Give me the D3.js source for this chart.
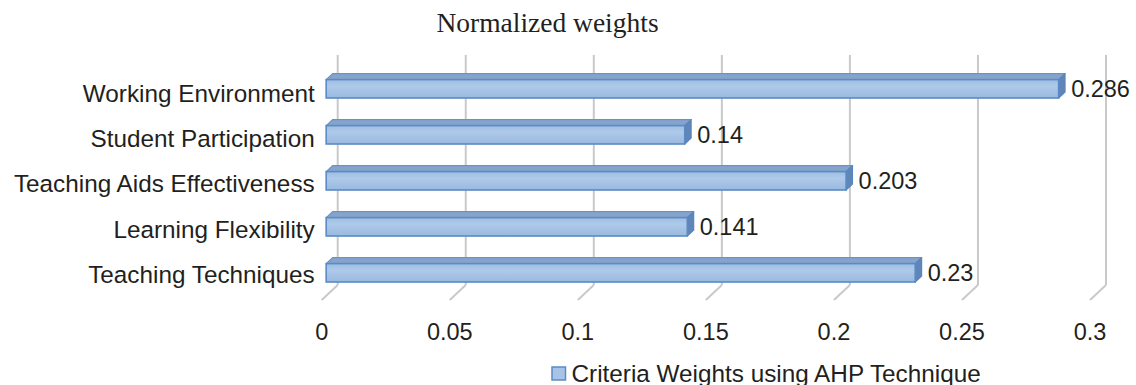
<!DOCTYPE html>
<html>
<head>
<meta charset="utf-8">
<script src="https://cdn.jsdelivr.net/npm/d3@7/dist/d3.min.js"></script>
<style>
  html, body { margin: 0; padding: 0; background: #ffffff; }
  svg { display: block; }
</style>
</head>
<body>
<svg id="chart" width="1136" height="385"></svg>
<script>
// ---- data ----
const categories = ["Working Environment", "Student Participation", "Teaching Aids Effectiveness", "Learning Flexibility", "Teaching Techniques"];
const values = [0.286, 0.14, 0.203, 0.141, 0.23];
const valueLabels = ["0.286", "0.14", "0.203", "0.141", "0.23"];
const tickValues = [0, 0.05, 0.1, 0.15, 0.2, 0.25, 0.3];
const tickLabels = ["0", "0.05", "0.1", "0.15", "0.2", "0.25", "0.3"];
const title = "Normalized weights";
const seriesName = "Criteria Weights using AHP Technique";

// ---- layout ----
const svg = d3.select("#chart");
const wallTop = 55, wallBottom = 285;
const depthDX = -16, depthDY = 15;   // floor depth projection (back -> front)
const barFront = 0.72, barBack = 0.32; // bar depth fractions

const x = d3.scaleLinear().domain([0, 0.3]).range([337.7, 1106]);
const y = d3.scaleBand().domain(categories).range([wallTop, wallBottom])
  .paddingInner(0.6).paddingOuter(0.3);

const proj = (v, yy, d) => [x(v) + depthDX * d, yy + depthDY * d];

const textColor = "#231f20";
const sans = "'Liberation Sans', Arial, sans-serif";

// defs: gradient for bar front face
const defs = svg.append("defs");
const g1 = defs.append("linearGradient").attr("id", "frontGrad")
  .attr("x1", 0).attr("y1", 0).attr("x2", 0).attr("y2", 1);
g1.append("stop").attr("offset", "0%").attr("stop-color", "#9fbde2");
g1.append("stop").attr("offset", "35%").attr("stop-color", "#aecaea");
g1.append("stop").attr("offset", "100%").attr("stop-color", "#9ab9df");

// ---- gridlines on back wall + floor ----
const grid = svg.append("g");
grid.selectAll("line.v").data(tickValues).enter().append("line")
  .attr("x1", d => x(d)).attr("x2", d => x(d))
  .attr("y1", wallTop).attr("y2", wallBottom)
  .attr("stroke", "#c9c9c9").attr("stroke-width", 2);
grid.selectAll("line.f").data(tickValues).enter().append("line")
  .attr("x1", d => x(d)).attr("y1", wallBottom)
  .attr("x2", d => proj(d, wallBottom, 1)[0]).attr("y2", d => proj(d, wallBottom, 1)[1])
  .attr("stroke", "#c9c9c9").attr("stroke-width", 2);

// ---- bars ----
const bars = svg.append("g");
categories.forEach((c, i) => {
  const v = values[i];
  const yt = y(c), yb = y(c) + y.bandwidth();
  const fTL = proj(0, yt, barFront), fTR = proj(v, yt, barFront);
  const fBL = proj(0, yb, barFront), fBR = proj(v, yb, barFront);
  const bTL = proj(0, yt, barBack), bTR = proj(v, yt, barBack);
  const bBR = proj(v, yb, barBack);
  const poly = pts => pts.map(p => p.join(",")).join(" ");
  // top face
  bars.append("polygon")
    .attr("points", poly([fTL, bTL, bTR, fTR]))
    .attr("fill", "#84a4cc").attr("stroke", "#6c92c3").attr("stroke-width", 1.2)
    .attr("stroke-linejoin", "round");
  // side face
  bars.append("polygon")
    .attr("points", poly([fTR, bTR, bBR, fBR]))
    .attr("fill", "#5f86b9").attr("stroke", "#5a84bd").attr("stroke-width", 1.2)
    .attr("stroke-linejoin", "round");
  // front face
  bars.append("rect")
    .attr("x", fTL[0]).attr("y", fTL[1])
    .attr("width", fTR[0] - fTL[0]).attr("height", fBL[1] - fTL[1])
    .attr("fill", "url(#frontGrad)").attr("stroke", "#5b8ac6").attr("stroke-width", 1.6);
  // value label
  svg.append("text")
    .attr("x", fTR[0] + 12.5)
    .attr("y", (fTL[1] + fBL[1]) / 2 + 8.3)
    .attr("font-family", sans).attr("font-size", 23.5).attr("fill", textColor)
    .text(valueLabels[i]);
});

// ---- category labels (front-left edge) ----
svg.append("g").selectAll("text").data(categories).enter().append("text")
  .attr("x", d => proj(0, 0, 1)[0] - 7)
  .attr("y", (d, i) => proj(0, y(d) + y.bandwidth() / 2, 1)[1] + 8.5 - i * 0.6)
  .attr("text-anchor", "end")
  .attr("font-family", sans).attr("font-size", 24.3).attr("fill", textColor)
  .text(d => d);

// ---- x tick labels ----
svg.append("g").selectAll("text").data(tickValues).enter().append("text")
  .attr("x", d => proj(d, wallBottom, 1)[0])
  .attr("y", 339.5)
  .attr("text-anchor", "middle")
  .attr("font-family", sans).attr("font-size", 23.5).attr("fill", textColor)
  .text((d, i) => tickLabels[i]);

// ---- title ----
svg.append("text")
  .attr("x", 547.5).attr("y", 31.7)
  .attr("text-anchor", "middle")
  .attr("font-family", "'Liberation Serif', 'Times New Roman', serif")
  .attr("font-size", 27.5).attr("fill", textColor)
  .text(title);

// ---- legend ----
const lg = svg.append("g");
lg.append("rect").attr("x", 552).attr("y", 367).attr("width", 13.5).attr("height", 13)
  .attr("fill", "#a7c4e7").attr("stroke", "#5b8ac6").attr("stroke-width", 1.5);
lg.append("text").attr("x", 571.5).attr("y", 381.5)
  .attr("font-family", sans).attr("font-size", 24.3).attr("fill", textColor)
  .text(seriesName);
</script>
</body>
</html>
